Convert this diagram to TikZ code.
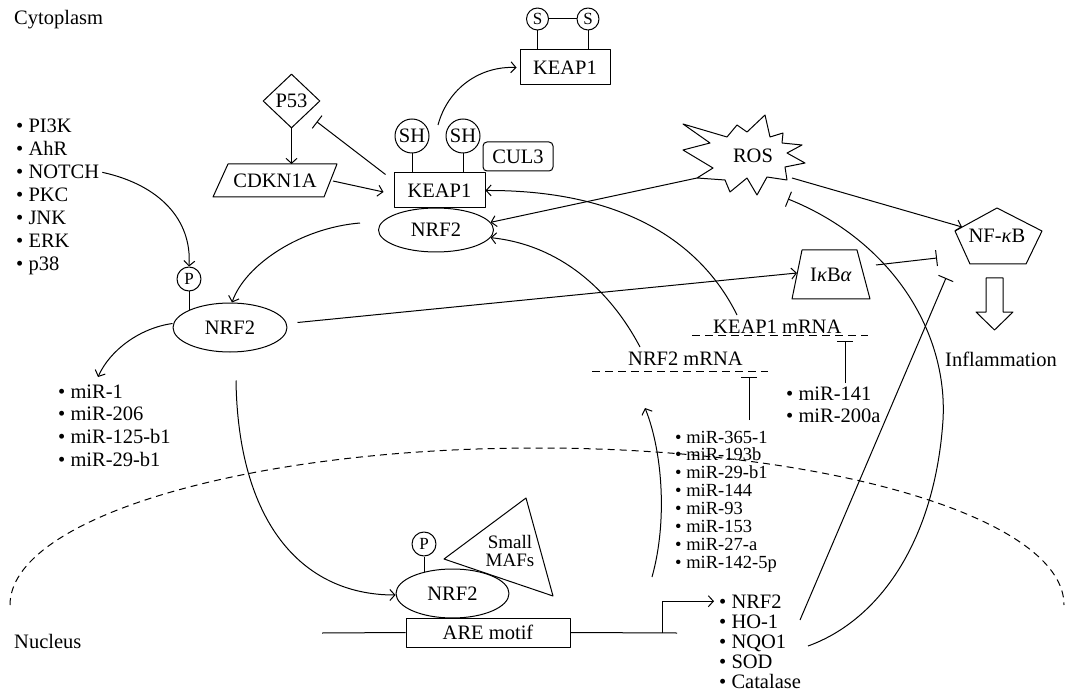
\documentclass[tikz,border=0pt]{standalone}
\usepackage{fontspec}
\setmainfont{Liberation Serif}
\usetikzlibrary{arrows.meta,shapes.geometric}
\newcommand\myfs{\fontsize{20.5}{24}\selectfont}
\newcommand\mysm{\fontsize{17}{20}\selectfont}
\newcommand\mytight{\fontsize{18.5}{18}\selectfont}
\begin{document}
\begin{tikzpicture}[x=1pt,y=-1pt,line join=round,
  ln/.style={line width=1pt},
  arr/.style={ln,-{Straight Barb[length=5pt,width=11pt]}},
  inh/.style={ln,-{Bar[width=16pt]}},
  lbl/.style={font=\myfs,inner sep=0pt},
  lst/.style={font=\myfs,inner sep=0pt,anchor=base west},
  box/.style={draw,ln,rectangle,inner sep=0pt,font=\myfs},
  ell/.style={draw,ln,ellipse,inner sep=0pt,font=\myfs},
  circ/.style={draw,ln,circle,inner sep=0pt,font=\myfs},
  dsh/.style={ln,dash pattern=on 8pt off 5pt}]
\useasboundingbox (0,0) rectangle (1067,692);

% region labels
\node[lst] (cyto) at (14,25) {Cytoplasm};
\node[lst] (nuc) at (14,648) {Nucleus};

% nucleus boundary
\draw[ln,dash pattern=on 7pt off 5pt] (10,605) arc[start angle=180,end angle=0,x radius=527pt,y radius=157pt];

% KEAP1 complexes
\node[box,minimum width=91pt,minimum height=35pt] (keap) at (439.5,190.5) {KEAP1};
\node[box,minimum width=90pt,minimum height=35pt] (keapT) at (565,67.5) {KEAP1};
\node[box,rounded corners=4pt,minimum width=70pt,minimum height=29pt] (cul) at (518,156.5) {CUL3};
\node[circ,minimum size=34pt] (sh1) at (412,136) {SH};
\node[circ,minimum size=34pt] (sh2) at (463,136) {SH};
\draw[ln] (sh1.south) -- (sh1.south |- keap.north);
\draw[ln] (sh2.south) -- (sh2.south |- keap.north);
\node[circ,minimum size=22pt,font=\mysm] (s1) at (537.5,19) {S};
\node[circ,minimum size=22pt,font=\mysm] (s2) at (588,19) {S};
\draw[ln] (s1) -- (s2);
\draw[ln] (s1.south) -- (s1.south |- keapT.north);
\draw[ln] (s2.south) -- (s2.south |- keapT.north);

% NRF2 forms
\node[ell,minimum width=115pt,minimum height=44pt] (nrfT) at (436,230) {NRF2};
\node[ell,minimum width=114pt,minimum height=49pt] (nrfL) at (230,327.5) {NRF2};
\node[ell,minimum width=113pt,minimum height=49pt] (nrfN) at (452.5,593.5) {NRF2};
\node[circ,minimum size=24pt,font=\mysm] (pL) at (189,279) {P};
\draw[ln] (pL.south) -- (pL.south |- nrfL.north west);
\node[circ,minimum size=24pt,font=\mysm] (pN) at (424,544) {P};
\draw[ln] (pN.south) -- (pN.south |- nrfN.141);

% Small MAFs
\coordinate (m1) at (526,498);
\coordinate (m2) at (444,559);
\coordinate (m3) at (553,596);
\draw[ln] (m1) -- (m2) -- (m3) -- cycle;
\node[lbl,align=center,font=\fontsize{19}{17.5}\selectfont] (maf) at (510,551) {Small\\MAFs};

% ARE motif and DNA
\node[box,minimum width=164pt,minimum height=29pt] (are) at (488,632.5) {ARE motif};
\coordinate (dnaL) at (322,633);
\coordinate (dnaR) at (677,633);
\coordinate (tss) at (662,633);
\draw[ln] (dnaL) -- (are.west);
\draw[ln] (are.east) -- (dnaR);

% P53 and CDKN1A
\node[draw,ln,diamond,inner sep=0pt,minimum width=57pt,minimum height=54pt,font=\myfs] (p53) at (291.5,101) {P53};
\node[lbl] (cdk) at (275,181) {CDKN1A};
\coordinate (cdk1) at (228,164);
\coordinate (cdk2) at (337,164);
\coordinate (cdk3) at (324,197);
\coordinate (cdk4) at (213,197);
\draw[ln] (cdk1) -- (cdk2) -- (cdk3) -- (cdk4) -- cycle;
\coordinate (cdkE) at (333,181);

% ROS
\node[lbl] (ros) at (753,156) {ROS};
\draw[ln] (683,124) -- (727,137) -- (737,125) -- (747,132) -- (765,115) -- (770,137)
  -- (783,133) -- (782,143) -- (802,145) -- (787,153) -- (805,163) -- (785,167)
  -- (787,180) -- (767,177) -- (757,195) -- (747,178) -- (730,192) -- (725,180)
  -- (697,178) -- (713,168) -- (683,150) -- (710,143) -- cycle;
\coordinate (rosLL) at (697,178);
\coordinate (rosLR) at (792,178);
\coordinate (rosB) at (788,199);

% NF-kB
\node[lbl] (nfkb) at (997,236) {NF-\textit{κ}B};
\draw[ln] (997,208) -- (1042,231) -- (1026,264) -- (970,264) -- (955,231) -- cycle;
\draw[ln] (986,278) -- (1003,278) -- (1003,312) -- (1013,312) -- (994.5,330) -- (976,312) -- (986,312) -- cycle;
\node[lst] (infl) at (945,366) {Inflammation};

% IkBa
\node[lbl] (ikb) at (831,275) {I\textit{κ}B\textit{α}};
\draw[ln] (802,250) -- (857,250) -- (870,299) -- (792,299) -- cycle;
\coordinate (ikbW) at (797,273);
\coordinate (ikbE) at (876,265);

% mRNAs
\node[lst] (km) at (713,333) {KEAP1 mRNA};
\draw[dsh] (692,335) -- (868,335);
\node[lst] (nm) at (628,365) {NRF2 mRNA};
\draw[dsh] (592,371) -- (768,371);

% lists
\foreach \t [count=\i from 0] in {PI3K,AhR,NOTCH,PKC,JNK,ERK,p38}
  \node[lst] (a\i) at (16,{133+23*\i}) {• \t};
\foreach \t [count=\i from 0] in {miR-1,miR-206,miR-125-b1,miR-29-b1}
  \node[lst] (b\i) at (58,{398+22.7*\i}) {• \t};
\foreach \t [count=\i from 0] in {miR-365-1,miR-193b,miR-29-b1,miR-144,miR-93,miR-153,miR-27-a,miR-142-5p}
  \node[lst,font=\mytight] (c\i) at (675,{443+17.9*\i}) {• \t};
\foreach \t [count=\i from 0] in {miR-141,miR-200a}
  \node[lst] (d\i) at (786,{400+22*\i}) {• \t};
\foreach \t [count=\i from 0] in {NRF2,HO-1,NQO1,SOD,Catalase}
  \node[lst] (g\i) at (719,{608+20*\i}) {• \t};

% connectors
\draw[arr] (p53.south) -- (p53.south |- cdk1);
\draw[inh] ([xshift=-8pt,yshift=-2pt]keap.north west) -- (316.7,121.7);
\draw[arr] (cdkE) -- ([xshift=-10pt,yshift=-1.5pt]keap.west);
\draw[arr] (438,125) .. controls (448,88) and (480,66) .. ([xshift=-3pt]keapT.west);
\draw[arr] (rosLL) -- (nrfT.8);
\draw[arr] (rosLR) -- (962,227);
\draw[arr] (737,315) .. controls (700,240) and (620,190) .. (keap.east);
\draw[arr] (640,347) .. controls (610,290) and (560,245) .. (nrfT.-8);
\draw[arr] ([xshift=-18pt,yshift=7pt]nrfT.west) .. controls (300,228) and (245,265) .. ([xshift=2pt]nrfL.north);
\draw[arr] ([xshift=3pt]a2.east) .. controls (160,185) and (192,220) .. (pL.north);
\draw[arr] ([yshift=4pt]nrfL.west) .. controls (140,328) and (110,350) .. (98,377);
\draw[arr] ([xshift=10pt,yshift=5pt]nrfL.east) -- (ikbW);
\draw[arr] ([xshift=6pt,yshift=-28pt]nrfL.south) .. controls (238,520) and (300,595) .. ([yshift=-1.5pt]nrfN.west);
\draw[inh] (ikbE) -- (937,258);
\draw[inh] (800,620) -- (946,278);
\draw[inh] (808,646) .. controls (880,620) and (935,540) .. (943,420)
  .. controls (948,330) and (890,240) .. (rosB);
\draw[inh] (845,383) -- (845,341);
\draw[inh] (749,420) -- (749,377);
\draw[arr] (652,577) .. controls (668,520) and (662,450) .. (645,408);
\draw[arr] (tss) |- ([xshift=-5pt]g0.west);
\end{tikzpicture}
\end{document}
